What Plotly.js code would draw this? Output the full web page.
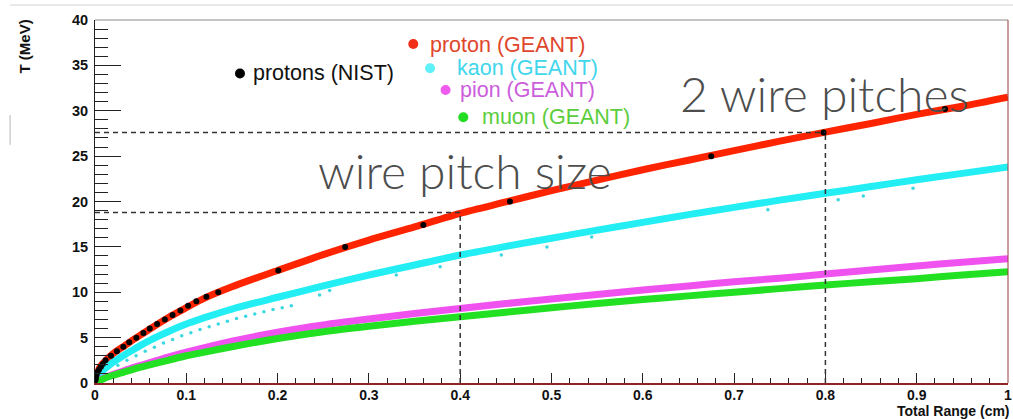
<!DOCTYPE html>
<html>
<head>
<meta charset="utf-8">
<script src="https://cdn.plot.ly/plotly-3.0.1.min.js"></script>
<style>
html, body { margin: 0; padding: 0; background: #fff; }
#chart { width: 1013px; height: 419px; }
</style>
</head>
<body>
<div id="chart"></div>
<script>
// Kinetic energy T (MeV) versus total range (cm) for protons, kaons, pions and muons.

// Range samples shared by the GEANT bands (cm)
const rangeGrid = [0, 0.005, 0.01, 0.02, 0.03, 0.04, 0.05, 0.06, 0.08, 0.1, 0.12, 0.15, 0.2, 0.25, 0.3,
                   0.35, 0.4, 0.45, 0.5, 0.55, 0.6, 0.65, 0.7, 0.75, 0.8, 0.85, 0.9, 0.95, 1.0];

// GEANT kinetic energy (MeV) at each range sample
const protonGeant = [0, 1.7, 2.3, 3.25, 3.95, 4.65, 5.3, 5.95, 7.2, 8.3, 9.35, 10.6, 12.4, 14.15, 15.75,
                     17.2, 18.7, 19.95, 21.2, 22.35, 23.5, 24.55, 25.6, 26.65, 27.65, 28.6, 29.6, 30.5, 31.5];
const kaonGeant   = [0, 1.0, 1.5, 2.3, 2.95, 3.55, 4.15, 4.7, 5.65, 6.5, 7.2, 8.15, 9.45, 10.7, 11.9,
                     13.0, 14.1, 15.05, 15.95, 16.85, 17.7, 18.55, 19.35, 20.15, 20.9, 21.65, 22.4, 23.1, 23.8];
const pionGeant   = [0, 0.3, 0.55, 0.95, 1.3, 1.65, 1.95, 2.25, 2.85, 3.4, 3.9, 4.6, 5.6, 6.4, 7.05,
                     7.65, 8.2, 8.75, 9.25, 9.75, 10.25, 10.7, 11.15, 11.55, 12.0, 12.45, 12.9, 13.3, 13.7];
const muonGeant   = [0, 0.25, 0.5, 0.85, 1.15, 1.45, 1.75, 2.0, 2.5, 3.0, 3.4, 4.0, 4.9, 5.65, 6.25,
                     6.8, 7.3, 7.8, 8.3, 8.75, 9.2, 9.6, 10.0, 10.4, 10.8, 11.15, 11.5, 11.9, 12.25];

// Scattered kaon entries lying below the main band
const kaonLowRange  = [0.025, 0.035, 0.045, 0.055, 0.065, 0.075, 0.085, 0.095, 0.105, 0.115, 0.125,
                       0.135, 0.145, 0.155, 0.165, 0.175, 0.185, 0.195, 0.205, 0.215,
                       0.246, 0.257, 0.33, 0.378, 0.445, 0.495, 0.544, 0.737, 0.814, 0.8415, 0.896];
const kaonLowEnergy = [1.95, 2.5, 3.0, 3.5, 3.95, 4.4, 4.8, 5.2, 5.55, 5.9, 6.2,
                       6.5, 6.8, 7.1, 7.35, 7.6, 7.85, 8.1, 8.3, 8.5,
                       9.7, 10.2, 11.9, 12.8, 14.1, 15.0, 16.1, 19.1, 20.2, 20.6, 21.45];

// NIST proton range table (cm, MeV)
const nistRange  = [0.0005, 0.001, 0.0018, 0.003, 0.0045, 0.0065, 0.0085, 0.0115, 0.0175, 0.024, 0.031,
                    0.0375, 0.0453, 0.053, 0.060, 0.068, 0.0765, 0.085, 0.0935, 0.102, 0.111, 0.122,
                    0.135, 0.2008, 0.274, 0.3596, 0.4545, 0.675, 0.798, 0.931];
const nistEnergy = [0.3, 0.55, 0.9, 1.25, 1.5, 1.8, 2.1, 2.5, 3.0, 3.5, 4.0,
                    4.5, 5.0, 5.5, 6.0, 6.5, 7.0, 7.5, 8.0, 8.5, 9.0, 9.5,
                    10.0, 12.4, 15.0, 17.4, 20.0, 25.0, 27.6, 30.2];

// One and two wire pitches and the proton energy reached at each
const pitchRange  = [0.4, 0.8];
const pitchEnergy = [18.8, 27.6];
const pitchLabels = ['wire pitch size', '2 wire pitches'];

// Axis ticks
const xTicks = [0, 0.1, 0.2, 0.3, 0.4, 0.5, 0.6, 0.7, 0.8, 0.9, 1];
const xTickText = ['0', '0.1', '0.2', '0.3', '0.4', '0.5', '0.6', '0.7', '0.8', '0.9', '1'];
const yTicks = [0, 5, 10, 15, 20, 25, 30, 35, 40];

const bandColors = { proton: '#ff2400', kaon: '#22eef4', pion: '#f052f0', muon: '#22e022' };

function band(y, color) {
  return { x: rangeGrid, y: y, type: 'scatter', mode: 'lines', hoverinfo: 'skip',
           line: { color: color, width: 7, shape: 'spline', smoothing: 0.8 } };
}

const traces = [
  band(protonGeant, bandColors.proton),
  band(kaonGeant, bandColors.kaon),
  band(pionGeant, bandColors.pion),
  band(muonGeant, bandColors.muon),
  { x: kaonLowRange, y: kaonLowEnergy, type: 'scatter', mode: 'markers',
    marker: { color: '#3ad8e0', size: 3.5 } },
  { x: nistRange, y: nistEnergy, type: 'scatter', mode: 'markers',
    marker: { color: '#000', size: 6 } }
];

const dashLine = { color: '#333', width: 1.5, dash: '5px,4px' };
const shapes = [];
pitchRange.forEach((r, i) => {
  shapes.push({ type: 'line', xref: 'x', yref: 'y', x0: 0, x1: r, y0: pitchEnergy[i], y1: pitchEnergy[i], line: dashLine });
  shapes.push({ type: 'line', xref: 'x', yref: 'y', x0: r, x1: r, y0: 0, y1: pitchEnergy[i], line: dashLine });
});
// frame: grey top edge, dark red right edge
shapes.push({ type: 'line', xref: 'paper', yref: 'paper', x0: 0, x1: 1, y0: 1, y1: 1, line: { color: '#8a8a8a', width: 1 } });
shapes.push({ type: 'line', xref: 'paper', yref: 'paper', x0: 1, x1: 1, y0: 0, y1: 1, line: { color: '#9a3a3a', width: 1 } });
// faint page rules around the figure
shapes.push({ type: 'line', xref: 'paper', yref: 'paper', x0: -0.093, x1: 1.006, y0: 1.041, y1: 1.041, line: { color: '#e2e2e2', width: 1.5 } });
shapes.push({ type: 'line', xref: 'paper', yref: 'paper', x0: -0.093, x1: -0.093, y0: 0.656, y1: 0.738, line: { color: '#cfcfcf', width: 1.5 } });

// key entries: dot position, label position, colours
const keyEntries = [
  { text: 'protons (NIST)', dot: [0.1588, 34.1], pos: [0.172, 34.15], dotColor: '#000', textColor: '#111' },
  { text: 'proton (GEANT)', dot: [0.3486, 37.35], pos: [0.366, 37.25], dotColor: '#f03018', textColor: '#e0462c' },
  { text: 'kaon (GEANT)', dot: [0.367, 34.68], pos: [0.395, 34.68], dotColor: '#5ff0f8', textColor: '#40d6ec' },
  { text: 'pion (GEANT)', dot: [0.384, 32.29], pos: [0.399, 32.29], dotColor: '#ee5cee', textColor: '#cc5edc' },
  { text: 'muon (GEANT)', dot: [0.4034, 29.28], pos: [0.4225, 29.34], dotColor: '#22dd22', textColor: '#5ccd3c' }
];

const annotations = [];
keyEntries.forEach(k => {
  shapes.push({ type: 'circle', xref: 'x', yref: 'y', xsizemode: 'pixel', ysizemode: 'pixel',
                xanchor: k.dot[0], yanchor: k.dot[1], x0: -5, x1: 5, y0: -5, y1: 5,
                fillcolor: k.dotColor, line: { width: 0 } });
  annotations.push({ text: k.text, x: k.pos[0], y: k.pos[1], xref: 'x', yref: 'y',
                     xanchor: 'left', yanchor: 'middle', showarrow: false, borderpad: 0,
                     font: { family: 'Liberation Sans, Arial, sans-serif', size: 21.5, color: k.textColor } });
});

annotations.push({ text: pitchLabels[0], x: 0.405, y: 23.4, xref: 'x', yref: 'y', showarrow: false,
                   xanchor: 'center', yanchor: 'middle',
                   font: { family: 'Lato, sans-serif', size: 48, weight: 300, color: '#4d4d4d' } });
annotations.push({ text: pitchLabels[1], x: 0.7985, y: 31.9, xref: 'x', yref: 'y', showarrow: false,
                   xanchor: 'center', yanchor: 'middle',
                   font: { family: 'Lato, sans-serif', size: 48, weight: 300, color: '#4d4d4d' } });

// axis titles
annotations.push({ text: 'T (MeV)', x: -0.0767, y: 0.927, xref: 'paper', yref: 'paper', showarrow: false,
                   textangle: -90, xanchor: 'center', yanchor: 'middle',
                   font: { family: 'Liberation Sans, Arial, sans-serif', size: 15, weight: 'bold', color: '#111' } });
annotations.push({ text: 'Total Range (cm)', x: 1.0035, y: -0.101, xref: 'paper', yref: 'paper', showarrow: false,
                   xanchor: 'right', yanchor: 'bottom', borderpad: 0,
                   font: { family: 'Liberation Sans, Arial, sans-serif', size: 14, weight: 'bold', color: '#111' } });

const tickFont = { family: 'Liberation Sans, Arial, sans-serif', size: 14.5, weight: 'bold', color: '#111' };

const layout = {
  width: 1013, height: 419,
  margin: { l: 95, r: 5, t: 20, b: 36 },
  paper_bgcolor: '#fff', plot_bgcolor: '#fff',
  showlegend: false,
  xaxis: {
    range: [0, 1], tickvals: xTicks, ticktext: xTickText, ticks: 'inside', ticklen: 10, tickwidth: 1,
    tickcolor: '#222', showgrid: false, zeroline: false, showline: true, linecolor: '#8e2424', linewidth: 1.5,
    tickfont: Object.assign({}, tickFont, { size: 14 }), ticklabelstandoff: -1,
    minor: { dtick: 0.02, ticks: 'inside', ticklen: 5, tickwidth: 1, tickcolor: '#222', showgrid: false }
  },
  yaxis: {
    range: [0, 40], tickvals: yTicks, ticks: 'inside', ticklen: 26, tickwidth: 1, tickcolor: '#222',
    showgrid: false, zeroline: false, showline: true, linecolor: '#222', linewidth: 1,
    tickfont: tickFont, ticklabelstandoff: 3,
    minor: { dtick: 1, ticks: 'inside', ticklen: 13, tickwidth: 1, tickcolor: '#222', showgrid: false }
  },
  shapes: shapes,
  annotations: annotations
};

Plotly.newPlot('chart', traces, layout, { displayModeBar: false, staticPlot: true });
</script>
</body>
</html>
